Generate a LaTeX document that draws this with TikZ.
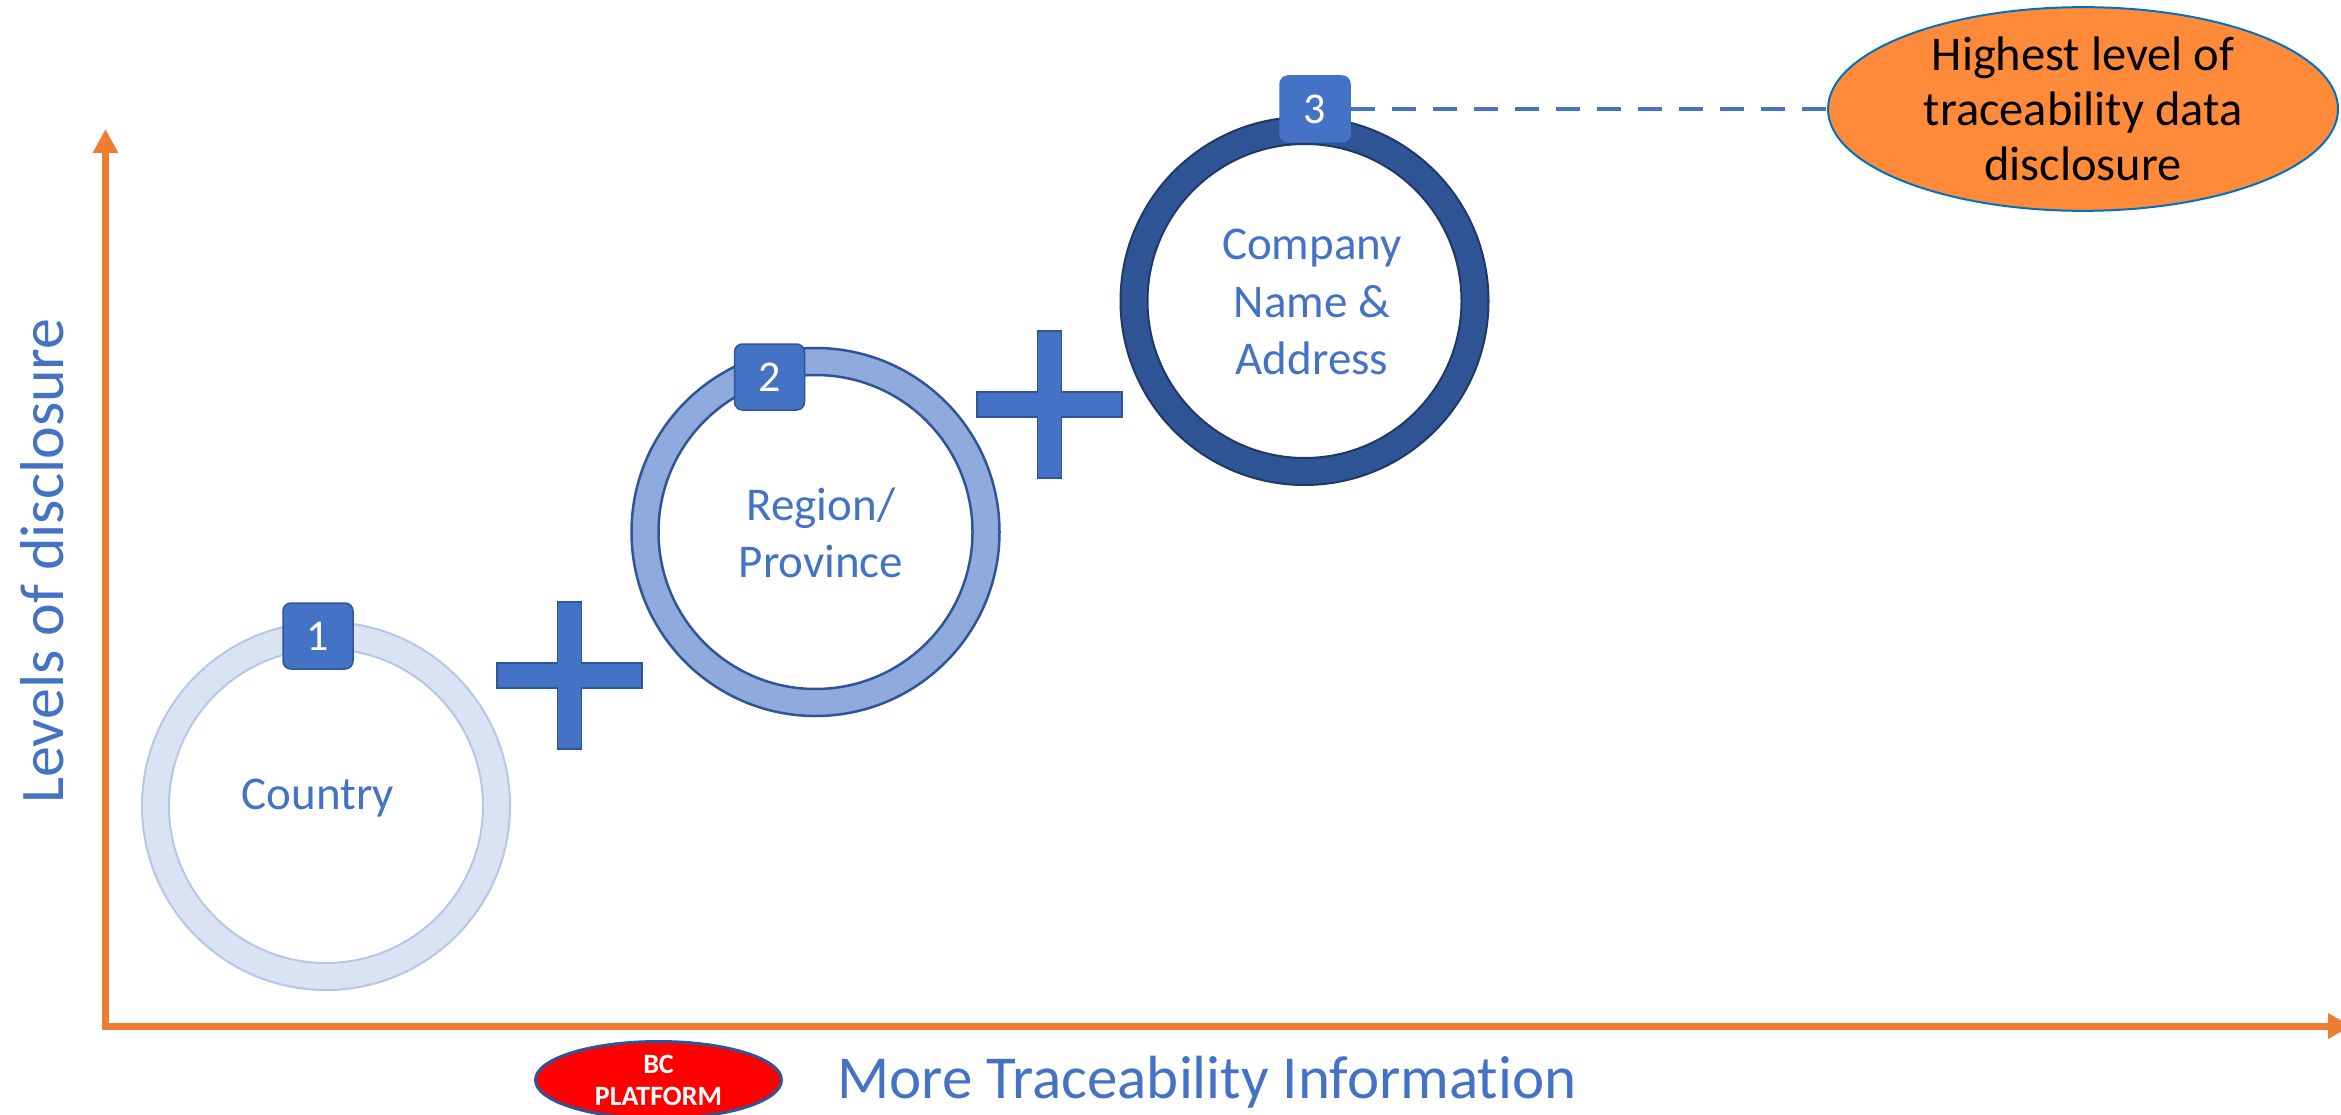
\documentclass[tikz,border=0pt]{standalone}
\usepackage{fontspec}
\setmainfont{Carlito}[Ligatures=NoCommon]
\usetikzlibrary{arrows.meta,shapes.geometric}
\definecolor{axisorange}{RGB}{237,125,49}
\definecolor{txtblue}{RGB}{68,114,196}
\definecolor{darkblue}{RGB}{47,85,151}
\definecolor{navyedge}{RGB}{32,56,100}
\definecolor{ringA}{RGB}{218,227,243}
\definecolor{ringAedge}{RGB}{180,199,231}
\definecolor{ringB}{RGB}{143,170,220}
\definecolor{hlorange}{RGB}{255,139,58}
\definecolor{hledge}{RGB}{0,112,192}
\definecolor{bcred}{RGB}{255,0,0}
\begin{document}
\begin{tikzpicture}[x=1pt,y=-1pt,
  axisline/.style={draw=axisorange, line width=7pt, -{Triangle[width=24pt,length=24pt]}},
  numbox/.style={rounded corners=8pt, fill=txtblue, draw=darkblue, line width=1.5pt,
    minimum width=70pt, minimum height=66pt, inner sep=0pt, text=white,
    font=\fontsize{44}{44}\selectfont},
  lbl/.style={text=txtblue, align=center, font=\fontsize{47}{57.5}\selectfont},
  plusshape/.style={fill=txtblue, draw=darkblue, line width=1.2pt},
  dashline/.style={draw=txtblue, line width=4.5pt, dash pattern=on 24pt off 17pt},
  anchorpt/.style={circle, minimum size=368pt, inner sep=0pt}
]
\useasboundingbox (0,0) rectangle (2341,1115);

% axes
\coordinate (origin) at (105.5,1026);
\coordinate (ytip) at (105.5,129);
\coordinate (xtip) at (2352,1026);
\draw[axisline] (105.5,1030) -- (ytip);
\draw[axisline] (102,1026) -- (xtip);

% ring 1
\node[anchorpt] (c1) at (326,806) {};
\fill[ringA, even odd rule] (c1.center) circle (184pt) (c1.center) circle (157pt);
\draw[ringAedge, line width=2pt] (c1.center) circle (184pt);
\draw[ringAedge, line width=2pt] (c1.center) circle (157pt);

% ring 2
\node[anchorpt] (c2) at (815.5,532) {};
\fill[ringB, even odd rule] (c2.center) circle (184pt) (c2.center) circle (157pt);
\draw[darkblue, line width=2.5pt] (c2.center) circle (184pt);
\draw[darkblue, line width=2.5pt] (c2.center) circle (157pt);

% ring 3
\node[anchorpt] (c3) at (1304.5,301) {};
\fill[darkblue, even odd rule] (c3.center) circle (184pt) (c3.center) circle (157pt);
\draw[navyedge, line width=2pt] (c3.center) circle (184pt);
\draw[navyedge, line width=2pt] (c3.center) circle (157pt);

% labels
\node[lbl] (t1) at (318,798) {Country};
\node[lbl] (t2) at (821,533) {Region/\\Province};
\node[lbl] (t3) at (1312,302) {Company\\Name \&\\Address};

% number boxes
\node[numbox] (b1) at (318,636) {1};
\node[numbox] (b2) at (769.5,377) {2};
\node[numbox, draw=txtblue] (b3) at (1315,109) {3};

% plus signs
\draw[plusshape] (569.5,675.5) ++(-12,-73.5) -- ++(24,0) -- ++(0,61) -- ++(60.5,0) -- ++(0,25)
  -- ++(-60.5,0) -- ++(0,61) -- ++(-24,0) -- ++(0,-61) -- ++(-60.5,0) -- ++(0,-25) -- ++(60.5,0) -- cycle;
\draw[plusshape] (1049.5,404.5) ++(-12,-73.5) -- ++(24,0) -- ++(0,61) -- ++(60.5,0) -- ++(0,25)
  -- ++(-60.5,0) -- ++(0,61) -- ++(-24,0) -- ++(0,-61) -- ++(-60.5,0) -- ++(0,-25) -- ++(60.5,0) -- cycle;

% highest level ellipse
\node[ellipse, fill=hlorange, draw=hledge, line width=2pt, minimum width=510pt, minimum height=198pt,
  inner sep=0pt, align=center, font=\fontsize{48.5}{55}\selectfont] (hl) at (2083,109)
  {Highest level of\\traceability data\\disclosure};
\draw[dashline] (b3.east) -- (hl.west);

% BC platform
\node[ellipse, fill=bcred, draw=darkblue, line width=3pt, minimum width=246pt, minimum height=77pt,
  inner sep=0pt, align=center, text=white, font=\bfseries\fontsize{28}{32}\selectfont] (bc) at (658.5,1080)
  {BC\\PLATFORM};

% axis titles
\node[anchor=base, text=txtblue, font=\fontsize{61}{61}\selectfont] (xlab) at (1207,1098) {More Traceability Informat\kern0pt ion};
\node[rotate=90, text=txtblue, font=\fontsize{62}{62}\selectfont] (ylab) at (42,561) {Levels of disclosure};
\end{tikzpicture}
\end{document}
